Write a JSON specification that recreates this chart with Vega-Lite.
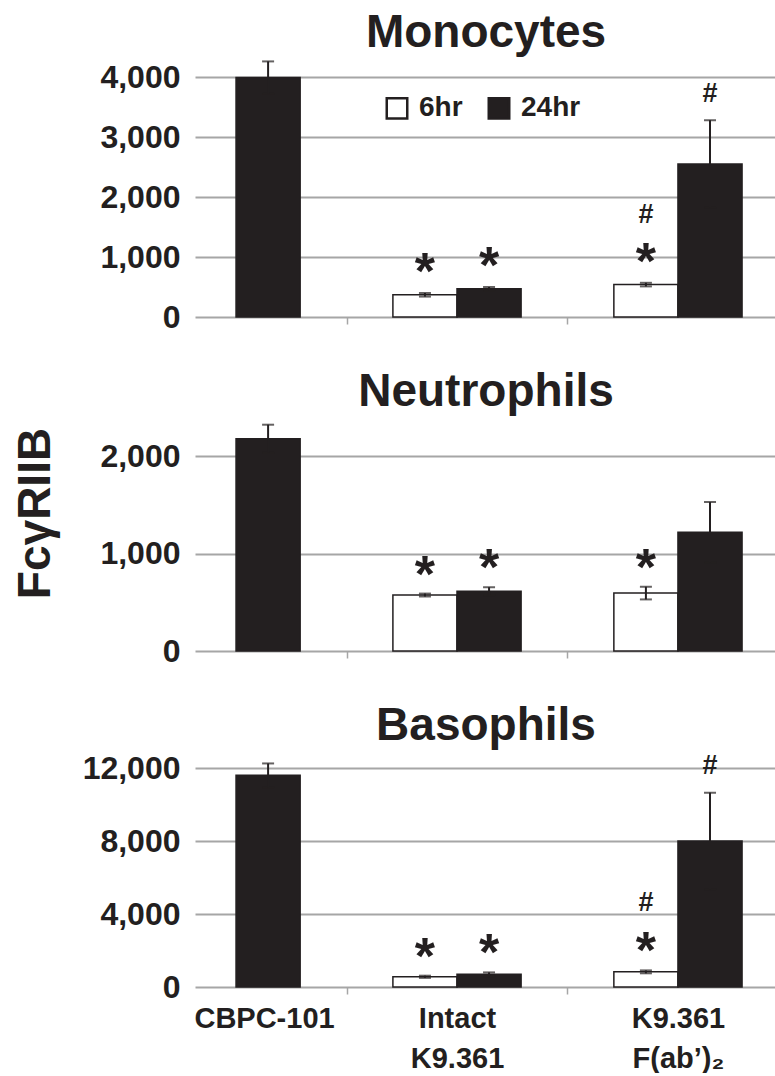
{
  "$schema": "https://vega.github.io/schema/vega-lite/v6.json",
  "background": "white",
  "padding": {"left": 12, "top": 10, "right": 0, "bottom": 0},
  "config": {
    "font": "Liberation Sans",
    "view": {"stroke": null},
    "axis": {"labelFont": "Liberation Sans", "labelFontWeight": "bold", "labelColor": "#231f20", "titleFont": "Liberation Sans", "titleFontWeight": "bold", "titleColor": "#231f20"},
    "title": {"font": "Liberation Sans", "fontWeight": "bold", "fontSize": 46, "color": "#231f20", "anchor": "middle", "frame": "group"},
    "concat": {"spacing": 36}
  },
  "datasets": {
    "cells": [
      {"cell": "Monocytes", "group": "CBPC-101", "time": "24hr", "mean": 3990, "lo": 3720, "hi": 4260, "star": "", "hash": ""},
      {"cell": "Monocytes", "group": "Intact K9.361", "time": "6hr", "mean": 370, "lo": 340, "hi": 400, "star": "*", "hash": ""},
      {"cell": "Monocytes", "group": "Intact K9.361", "time": "24hr", "mean": 470, "lo": 440, "hi": 500, "star": "*", "hash": ""},
      {"cell": "Monocytes", "group": "K9.361 F(ab’)₂", "time": "6hr", "mean": 540, "lo": 510, "hi": 570, "star": "*", "hash": "#"},
      {"cell": "Monocytes", "group": "K9.361 F(ab’)₂", "time": "24hr", "mean": 2550, "lo": 1820, "hi": 3280, "star": "", "hash": "#"},
      {"cell": "Neutrophils", "group": "CBPC-101", "time": "24hr", "mean": 2180, "lo": 2035, "hi": 2325, "star": "", "hash": ""},
      {"cell": "Neutrophils", "group": "Intact K9.361", "time": "6hr", "mean": 575, "lo": 560, "hi": 590, "star": "*", "hash": ""},
      {"cell": "Neutrophils", "group": "Intact K9.361", "time": "24hr", "mean": 615, "lo": 575, "hi": 655, "star": "*", "hash": ""},
      {"cell": "Neutrophils", "group": "K9.361 F(ab’)₂", "time": "6hr", "mean": 595, "lo": 530, "hi": 660, "star": "*", "hash": ""},
      {"cell": "Neutrophils", "group": "K9.361 F(ab’)₂", "time": "24hr", "mean": 1220, "lo": 910, "hi": 1530, "star": "", "hash": ""},
      {"cell": "Basophils", "group": "CBPC-101", "time": "24hr", "mean": 11600, "lo": 10950, "hi": 12250, "star": "", "hash": ""},
      {"cell": "Basophils", "group": "Intact K9.361", "time": "6hr", "mean": 560, "lo": 500, "hi": 620, "star": "*", "hash": ""},
      {"cell": "Basophils", "group": "Intact K9.361", "time": "24hr", "mean": 700, "lo": 600, "hi": 800, "star": "*", "hash": ""},
      {"cell": "Basophils", "group": "K9.361 F(ab’)₂", "time": "6hr", "mean": 830, "lo": 750, "hi": 910, "star": "*", "hash": "#"},
      {"cell": "Basophils", "group": "K9.361 F(ab’)₂", "time": "24hr", "mean": 8000, "lo": 5350, "hi": 10650, "star": "", "hash": "#"}
    ]
  },
  "resolve": {"scale": {"y": "independent"}, "legend": {"color": "independent"}},
  "vconcat": [
    {
      "width": 582, "height": 240,
      "title": {"text": "Monocytes", "offset": 3},
      "data": {"name": "cells"},
      "transform": [{"filter": "datum.cell === 'Monocytes'"}],
      "encoding": {
        "x": {"field": "group", "type": "nominal", "title": null,
          "scale": {"domain": ["CBPC-101", "Intact K9.361", "K9.361 F(ab’)₂"], "paddingInner": 0.9, "paddingOuter": 0.267, "align": 0.5},
          "axis": {"labels": false, "domain": false, "grid": false, "ticks": true, "tickSize": 7, "tickWidth": 1.5, "tickOffset": 81.5,
            "tickColor": {"condition": {"test": "datum.value !== 'CBPC-101' && datum.value !== 'Intact K9.361'", "value": "transparent"}, "value": "#a6a6a6"}}},
        "xOffset": {"field": "time", "type": "nominal", "scale": {"domain": ["6hr", "24hr"], "range": [-82.05, 46.15], "paddingInner": 0, "paddingOuter": 0}}
      },
      "layer": [
        {"mark": {"type": "bar", "stroke": "#231f20", "strokeWidth": 1.5},
          "encoding": {
            "y": {"field": "mean", "type": "quantitative", "title": null, "scale": {"domain": [0, 4000]},
              "axis": {"values": [0, 1000, 2000, 3000, 4000], "format": ",d", "labelFontSize": 32, "labelPadding": 15, "ticks": false, "domain": false, "gridColor": "#a6a6a6", "gridWidth": 2}},
            "color": {"field": "time", "type": "nominal", "scale": {"domain": ["6hr", "24hr"], "range": ["#ffffff", "#231f20"]},
              "legend": {"orient": "none", "legendX": 188, "legendY": 17, "direction": "horizontal", "title": null, "symbolType": "square", "symbolSize": 420,
                "symbolStrokeColor": "#231f20", "symbolStrokeWidth": 2.5, "labelFontSize": 28, "labelFontWeight": "bold", "labelColor": "#231f20", "labelFont": "Liberation Sans", "labelOffset": 8, "columnPadding": 20}}
          }},
        {"mark": {"type": "errorbar", "ticks": true, "size": 12, "thickness": 2, "color": "#231f20"},
          "encoding": {"y": {"field": "lo", "type": "quantitative", "title": null, "scale": {"domain": [0, 4000]}}, "y2": {"field": "hi"}}},
        {"transform": [{"filter": "datum.star === '*'"}],
          "mark": {"type": "text", "fontSize": 52, "fontWeight": "bold", "baseline": "alphabetic", "dy": -4, "color": "#231f20"},
          "encoding": {"y": {"field": "hi", "type": "quantitative", "title": null, "scale": {"domain": [0, 4000]}}, "text": {"field": "star"}}},
        {"transform": [{"filter": "datum.hash === '#' && datum.star === '*'"}],
          "mark": {"type": "text", "fontSize": 27, "fontWeight": "bold", "baseline": "alphabetic", "dy": -60, "color": "#231f20"},
          "encoding": {"y": {"field": "hi", "type": "quantitative", "title": null, "scale": {"domain": [0, 4000]}}, "text": {"field": "hash"}}},
        {"transform": [{"filter": "datum.hash === '#' && datum.star === ''"}],
          "mark": {"type": "text", "fontSize": 27, "fontWeight": "bold", "baseline": "alphabetic", "dy": -18.5, "color": "#231f20"},
          "encoding": {"y": {"field": "hi", "type": "quantitative", "title": null, "scale": {"domain": [0, 4000]}}, "text": {"field": "hash"}}}
      ]
    },
    {
      "width": 582, "height": 219,
      "title": {"text": "Neutrophils", "offset": 7.5},
      "data": {"name": "cells"},
      "transform": [{"filter": "datum.cell === 'Neutrophils'"}],
      "encoding": {
        "x": {"field": "group", "type": "nominal", "title": null,
          "scale": {"domain": ["CBPC-101", "Intact K9.361", "K9.361 F(ab’)₂"], "paddingInner": 0.9, "paddingOuter": 0.267, "align": 0.5},
          "axis": {"labels": false, "domain": false, "grid": false, "ticks": true, "tickSize": 7, "tickWidth": 1.5, "tickOffset": 81.5,
            "tickColor": {"condition": {"test": "datum.value !== 'CBPC-101' && datum.value !== 'Intact K9.361'", "value": "transparent"}, "value": "#a6a6a6"}}},
        "xOffset": {"field": "time", "type": "nominal", "scale": {"domain": ["6hr", "24hr"], "range": [-82.05, 46.15], "paddingInner": 0, "paddingOuter": 0}}
      },
      "layer": [
        {"mark": {"type": "bar", "stroke": "#231f20", "strokeWidth": 1.5},
          "encoding": {
            "y": {"field": "mean", "type": "quantitative", "title": "FcγRIIB", "scale": {"domain": [0, 2250]},
              "axis": {"title": "FcγRIIB", "values": [0, 1000, 2000], "format": ",d", "labelFontSize": 32, "labelPadding": 15, "ticks": false, "domain": false, "gridColor": "#a6a6a6", "gridWidth": 2,
                "titleFontSize": 46, "titlePadding": 40, "titleY": 81}},
            "color": {"field": "time", "type": "nominal", "scale": {"domain": ["6hr", "24hr"], "range": ["#ffffff", "#231f20"]}, "legend": null}
          }},
        {"mark": {"type": "errorbar", "ticks": true, "size": 12, "thickness": 2, "color": "#231f20"},
          "encoding": {"y": {"field": "lo", "type": "quantitative", "title": "FcγRIIB", "scale": {"domain": [0, 2250]}}, "y2": {"field": "hi"}}},
        {"transform": [{"filter": "datum.star === '*'"}],
          "mark": {"type": "text", "fontSize": 52, "fontWeight": "bold", "baseline": "alphabetic", "dy": -2, "color": "#231f20"},
          "encoding": {"y": {"field": "hi", "type": "quantitative", "title": "FcγRIIB", "scale": {"domain": [0, 2250]}}, "text": {"field": "star"}}}
      ]
    },
    {
      "width": 582, "height": 219,
      "title": {"text": "Basophils", "offset": 2},
      "data": {"name": "cells"},
      "transform": [{"filter": "datum.cell === 'Basophils'"}],
      "encoding": {
        "x": {"field": "group", "type": "nominal", "title": null,
          "scale": {"domain": ["CBPC-101", "Intact K9.361", "K9.361 F(ab’)₂"], "paddingInner": 0.9, "paddingOuter": 0.267, "align": 0.5},
          "axis": {"labels": true, "domain": false, "grid": false, "ticks": true, "tickSize": 7, "tickWidth": 1.5, "tickOffset": 81.5,
            "tickColor": {"condition": {"test": "datum.value !== 'CBPC-101' && datum.value !== 'Intact K9.361'", "value": "transparent"}, "value": "#a6a6a6"},
            "labelExpr": "split(datum.label, ' ')", "labelFontSize": 29, "labelLineHeight": 40, "labelPadding": 10, "labelAngle": 0,
            "labelOffset": {"condition": {"test": "datum.value === 'CBPC-101'", "value": -82.5}, "value": -110.5}}},
        "xOffset": {"field": "time", "type": "nominal", "scale": {"domain": ["6hr", "24hr"], "range": [-82.05, 46.15], "paddingInner": 0, "paddingOuter": 0}}
      },
      "layer": [
        {"mark": {"type": "bar", "stroke": "#231f20", "strokeWidth": 1.5},
          "encoding": {
            "y": {"field": "mean", "type": "quantitative", "title": null, "scale": {"domain": [0, 12000]},
              "axis": {"values": [0, 4000, 8000, 12000], "format": ",d", "labelFontSize": 32, "labelPadding": 15, "ticks": false, "domain": false, "gridColor": "#a6a6a6", "gridWidth": 2}},
            "color": {"field": "time", "type": "nominal", "scale": {"domain": ["6hr", "24hr"], "range": ["#ffffff", "#231f20"]}, "legend": null}
          }},
        {"mark": {"type": "errorbar", "ticks": true, "size": 12, "thickness": 2, "color": "#231f20"},
          "encoding": {"y": {"field": "lo", "type": "quantitative", "title": null, "scale": {"domain": [0, 12000]}}, "y2": {"field": "hi"}}},
        {"transform": [{"filter": "datum.star === '*'"}],
          "mark": {"type": "text", "fontSize": 52, "fontWeight": "bold", "baseline": "alphabetic", "dy": -2, "color": "#231f20"},
          "encoding": {"y": {"field": "hi", "type": "quantitative", "title": null, "scale": {"domain": [0, 12000]}}, "text": {"field": "star"}}},
        {"transform": [{"filter": "datum.hash === '#' && datum.star === '*'"}],
          "mark": {"type": "text", "fontSize": 27, "fontWeight": "bold", "baseline": "alphabetic", "dy": -59, "color": "#231f20"},
          "encoding": {"y": {"field": "hi", "type": "quantitative", "title": null, "scale": {"domain": [0, 12000]}}, "text": {"field": "hash"}}},
        {"transform": [{"filter": "datum.hash === '#' && datum.star === ''"}],
          "mark": {"type": "text", "fontSize": 27, "fontWeight": "bold", "baseline": "alphabetic", "dy": -18.5, "color": "#231f20"},
          "encoding": {"y": {"field": "hi", "type": "quantitative", "title": null, "scale": {"domain": [0, 12000]}}, "text": {"field": "hash"}}}
      ]
    }
  ]
}
